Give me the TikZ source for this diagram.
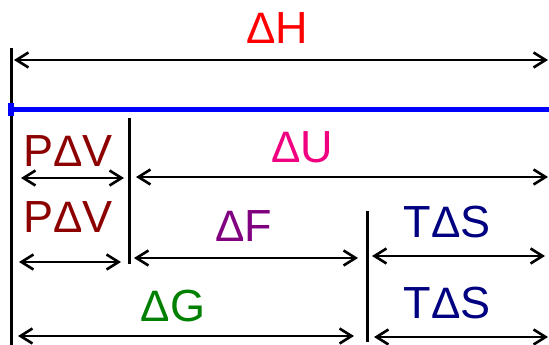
\documentclass[tikz,border=0pt]{standalone}
\usepackage{fontspec}
\setmainfont{Liberation Sans}
\usetikzlibrary{arrows.meta}
% a slimmer delta sitting on the baseline of the big letters
\newcommand\smalldelta{{\fontsize{44pt}{44pt}\selectfont Δ}}
\definecolor{hcol}{RGB}{255,0,0}
\definecolor{ucol}{RGB}{240,0,128}
\definecolor{pvcol}{RGB}{140,0,0}
\definecolor{fcol}{RGB}{128,0,128}
\definecolor{tscol}{RGB}{0,0,128}
\definecolor{gcol}{RGB}{0,128,0}
\begin{document}
\begin{tikzpicture}[x=1pt,y=-1pt,
  lbl/.style={font=\fontsize{45pt}{45pt}\selectfont, anchor=base, inner sep=0pt},
  dim/.style={line width=2.6pt,
    {Straight Barb[length=12pt,width=15pt]}-{Straight Barb[length=12pt,width=15pt]}},
  wall/.style={line width=3pt}]
\useasboundingbox (0,0) rectangle (549,345);

% vertical boundaries
\coordinate (w0t) at (11,48);  \coordinate (w0b) at (11,345);
\coordinate (w1t) at (129,118); \coordinate (w1b) at (129,264);
\coordinate (w2t) at (367,211); \coordinate (w2b) at (367,342);
\draw[wall] (w0t) -- (w0b);
\draw[wall] (w1t) -- (w1b);
\draw[wall] (w2t) -- (w2b);

% blue reference line
\coordinate (bl) at (11,109); \coordinate (br) at (549,109);
\draw[blue, line width=5pt] (bl) -- (br);
\fill[blue] (8,103) rectangle (14,116);

% arrow end points
\coordinate (hL) at (14,60);   \coordinate (hR) at (548,60);
\coordinate (pv1L) at (21,178); \coordinate (pv1R) at (124,178);
\coordinate (uL) at (136,177); \coordinate (uR) at (548,177);
\coordinate (pv2L) at (19,262); \coordinate (pv2R) at (121,262);
\coordinate (fL) at (134,258); \coordinate (fR) at (358,258);
\coordinate (ts1L) at (372,256); \coordinate (ts1R) at (545,256);
\coordinate (gL) at (18,336);  \coordinate (gR) at (354,336);
\coordinate (ts2L) at (374,337); \coordinate (ts2R) at (548,337);

\draw[dim] (hL) -- (hR);
\draw[dim] (pv1L) -- (pv1R);
\draw[dim] (uL) -- (uR);
\draw[dim] (pv2L) -- (pv2R);
\draw[dim] (fL) -- (fR);
\draw[dim] (ts1L) -- (ts1R);
\draw[dim] (gL) -- (gR);
\draw[dim] (ts2L) -- (ts2R);

% labels
\node[lbl, text=hcol]  (dH)  at (277,44)  {\smalldelta H};
\node[lbl, text=pvcol] (pv1) at (68,166)  {P\smalldelta V};
\node[lbl, text=ucol]  (dU)  at (302,162) {\smalldelta U};
\node[lbl, text=pvcol] (pv2) at (68,232)  {P\smalldelta V};
\node[lbl, text=fcol]  (dF)  at (244,241) {\smalldelta F};
\node[lbl, text=tscol] (ts1) at (447,237) {T\smalldelta S};
\node[lbl, text=gcol]  (dG)  at (173,321) {\smalldelta G};
\node[lbl, text=tscol] (ts2) at (447,318) {T\smalldelta S};
\end{tikzpicture}
\end{document}
